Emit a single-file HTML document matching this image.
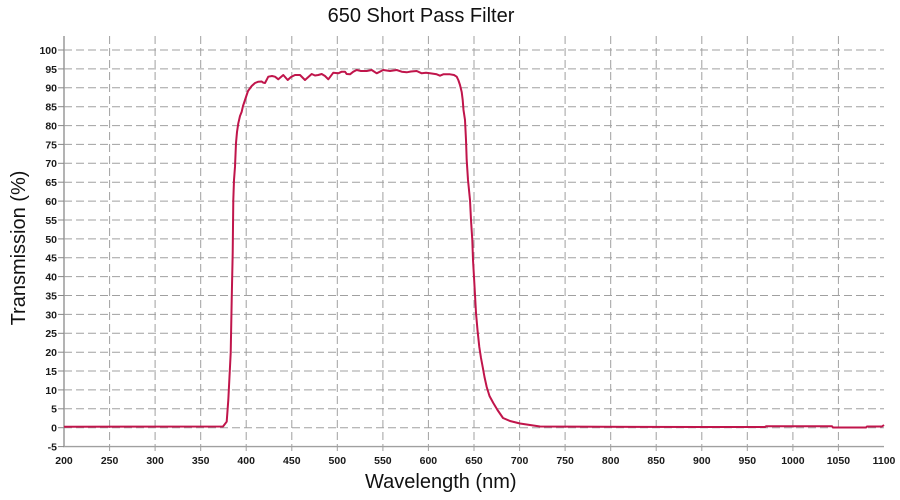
<!DOCTYPE html>
<html>
<head>
<meta charset="utf-8">
<style>
html,body{margin:0;padding:0;background:#fff;}
svg{display:block;}
text{font-family:"Liberation Sans",Arial,sans-serif;}
</style>
</head>
<body>
<svg width="900" height="500" viewBox="0 0 900 500" xmlns="http://www.w3.org/2000/svg">
<rect width="900" height="500" fill="#fff"/>
<!-- title -->
<text x="421" y="22" font-size="20" text-anchor="middle" fill="#111">650 Short Pass Filter</text>
<!-- horizontal grid -->
<g stroke="#a0a0a0" stroke-width="1" stroke-dasharray="8,4" fill="none">
<line x1="64" x2="884" y1="427.7" y2="427.7"/>
<line x1="64" x2="884" y1="408.8" y2="408.8"/>
<line x1="64" x2="884" y1="389.9" y2="389.9"/>
<line x1="64" x2="884" y1="371.0" y2="371.0"/>
<line x1="64" x2="884" y1="352.2" y2="352.2"/>
<line x1="64" x2="884" y1="333.3" y2="333.3"/>
<line x1="64" x2="884" y1="314.4" y2="314.4"/>
<line x1="64" x2="884" y1="295.5" y2="295.5"/>
<line x1="64" x2="884" y1="276.6" y2="276.6"/>
<line x1="64" x2="884" y1="257.7" y2="257.7"/>
<line x1="64" x2="884" y1="238.9" y2="238.9"/>
<line x1="64" x2="884" y1="220.0" y2="220.0"/>
<line x1="64" x2="884" y1="201.1" y2="201.1"/>
<line x1="64" x2="884" y1="182.2" y2="182.2"/>
<line x1="64" x2="884" y1="163.3" y2="163.3"/>
<line x1="64" x2="884" y1="144.4" y2="144.4"/>
<line x1="64" x2="884" y1="125.6" y2="125.6"/>
<line x1="64" x2="884" y1="106.7" y2="106.7"/>
<line x1="64" x2="884" y1="87.8" y2="87.8"/>
<line x1="64" x2="884" y1="68.9" y2="68.9"/>
<line x1="64" x2="884" y1="50.0" y2="50.0"/>
</g>
<!-- vertical grid -->
<g stroke="#a0a0a0" stroke-width="1" stroke-dasharray="8,4" fill="none">
<line y1="36" y2="451" x1="109.6" x2="109.6"/>
<line y1="36" y2="451" x1="155.1" x2="155.1"/>
<line y1="36" y2="451" x1="200.7" x2="200.7"/>
<line y1="36" y2="451" x1="246.2" x2="246.2"/>
<line y1="36" y2="451" x1="291.8" x2="291.8"/>
<line y1="36" y2="451" x1="337.3" x2="337.3"/>
<line y1="36" y2="451" x1="382.9" x2="382.9"/>
<line y1="36" y2="451" x1="428.4" x2="428.4"/>
<line y1="36" y2="451" x1="474.0" x2="474.0"/>
<line y1="36" y2="451" x1="519.6" x2="519.6"/>
<line y1="36" y2="451" x1="565.1" x2="565.1"/>
<line y1="36" y2="451" x1="610.7" x2="610.7"/>
<line y1="36" y2="451" x1="656.2" x2="656.2"/>
<line y1="36" y2="451" x1="701.8" x2="701.8"/>
<line y1="36" y2="451" x1="747.3" x2="747.3"/>
<line y1="36" y2="451" x1="792.9" x2="792.9"/>
<line y1="36" y2="451" x1="838.4" x2="838.4"/>
</g>
<!-- axes -->
<line x1="64" y1="36" x2="64" y2="447" stroke="#a0a0a0" stroke-width="1.6"/>
<line x1="63" y1="446.6" x2="884" y2="446.6" stroke="#a0a0a0" stroke-width="1.4"/>
<!-- y ticks -->
<g stroke="#888" stroke-width="1">
<line x1="58" x2="64" y1="427.7" y2="427.7"/><line x1="58" x2="64" y1="408.8" y2="408.8"/><line x1="58" x2="64" y1="389.9" y2="389.9"/><line x1="58" x2="64" y1="371.0" y2="371.0"/><line x1="58" x2="64" y1="352.2" y2="352.2"/><line x1="58" x2="64" y1="333.3" y2="333.3"/><line x1="58" x2="64" y1="314.4" y2="314.4"/><line x1="58" x2="64" y1="295.5" y2="295.5"/><line x1="58" x2="64" y1="276.6" y2="276.6"/><line x1="58" x2="64" y1="257.7" y2="257.7"/><line x1="58" x2="64" y1="238.9" y2="238.9"/><line x1="58" x2="64" y1="220.0" y2="220.0"/><line x1="58" x2="64" y1="201.1" y2="201.1"/><line x1="58" x2="64" y1="182.2" y2="182.2"/><line x1="58" x2="64" y1="163.3" y2="163.3"/><line x1="58" x2="64" y1="144.4" y2="144.4"/><line x1="58" x2="64" y1="125.6" y2="125.6"/><line x1="58" x2="64" y1="106.7" y2="106.7"/><line x1="58" x2="64" y1="87.8" y2="87.8"/><line x1="58" x2="64" y1="68.9" y2="68.9"/><line x1="58" x2="64" y1="50.0" y2="50.0"/><line x1="58" x2="64" y1="446.6" y2="446.6"/>
</g>
<!-- y tick labels -->
<g font-size="10.5" font-weight="bold" fill="#1a1a1a" text-anchor="end">
<text x="57" y="450.5">-5</text>
<text x="57" y="431.6">0</text>
<text x="57" y="412.7">5</text>
<text x="57" y="393.8">10</text>
<text x="57" y="374.9">15</text>
<text x="57" y="356.1">20</text>
<text x="57" y="337.2">25</text>
<text x="57" y="318.3">30</text>
<text x="57" y="299.4">35</text>
<text x="57" y="280.5">40</text>
<text x="57" y="261.6">45</text>
<text x="57" y="242.8">50</text>
<text x="57" y="223.9">55</text>
<text x="57" y="205.0">60</text>
<text x="57" y="186.1">65</text>
<text x="57" y="167.2">70</text>
<text x="57" y="148.3">75</text>
<text x="57" y="129.5">80</text>
<text x="57" y="110.6">85</text>
<text x="57" y="91.7">90</text>
<text x="57" y="72.8">95</text>
<text x="57" y="53.9">100</text>
</g>
<!-- x tick labels -->
<g font-size="10.5" font-weight="bold" fill="#1a1a1a" text-anchor="middle">
<text x="64" y="464">200</text>
<text x="109.6" y="464">250</text>
<text x="155.1" y="464">300</text>
<text x="200.7" y="464">350</text>
<text x="246.2" y="464">400</text>
<text x="291.8" y="464">450</text>
<text x="337.3" y="464">500</text>
<text x="382.9" y="464">550</text>
<text x="428.4" y="464">600</text>
<text x="474.0" y="464">650</text>
<text x="519.6" y="464">700</text>
<text x="565.1" y="464">750</text>
<text x="610.7" y="464">800</text>
<text x="656.2" y="464">850</text>
<text x="701.8" y="464">900</text>
<text x="747.3" y="464">950</text>
<text x="792.9" y="464">1000</text>
<text x="838.4" y="464">1050</text>
<text x="884" y="464">1100</text>
</g>
<!-- axis labels -->
<text x="365" y="488" font-size="20" fill="#111">Wavelength (nm)</text>
<text transform="translate(25,248) rotate(-90)" font-size="20" text-anchor="middle" fill="#111">Transmission (%)</text>
<!-- curve -->
<polyline fill="none" stroke="#c0154b" stroke-width="2" stroke-linejoin="round" points="
64,426.7 223,426.5 226.7,421.7 228.3,400 230.7,353 231.7,300 232.7,253 233.3,200 234,180 235,166.7 236,143 237,132 238.3,123.3 240,116 241.7,111.7 243,106 245,100 248,91 251.7,86 255,83 258.3,81.7 261.7,81.5 263.3,82.7 265,83 268.3,76.7 272,76 275,76.7 278.3,79.3 283.3,75 287.7,80 291,77 295,75 300,75 305,80 311.7,74 315,75.5 318.3,75 321.7,74 325,76 328.3,79.3 333.3,72.7 338.3,73.3 341.7,71.7 345,71.7 346.7,74 350,74.3 353.3,71.7 356.7,70 361,71 366.7,71 371.7,70 376.7,73.3 383.3,70 390,71 396.7,70 401.7,71.7 406.7,72.3 411,71.5 416.7,71 421.7,73.3 426,72.8 430,73.3 436.7,74.3 440,75.7 443.3,74.3 450,74.3 454,75 456.7,76.7 458.3,80 460,85 461.7,92 462.7,100 463.5,110 465,120 466,140 466.7,160 468,180 470,200 471,220 472.3,240 473,260 474,277 475,295 476,313 477.5,330 479.3,347 481,358 482.7,367 484.5,377 486.7,387 489.5,396 493.3,403 497.5,410 503,418 510,421 520,423.5 530,425 540,426.5 600,426.8 700,427 765,427 766,426.3 832,426.3 833,427.5 866,427.5 867,426.5 882,426.5 884,425"/>
</svg>
</body>
</html>
